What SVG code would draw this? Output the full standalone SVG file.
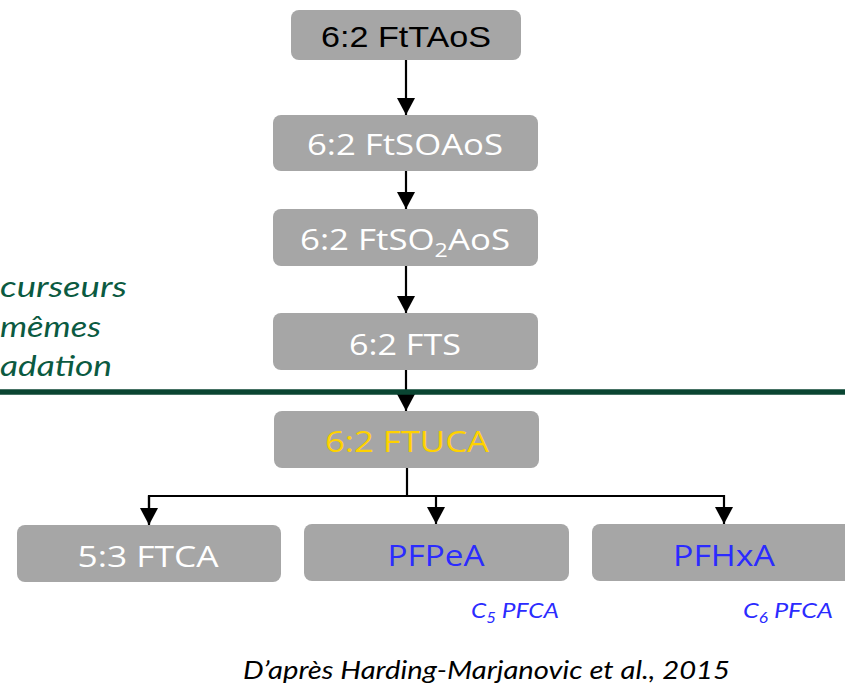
<svg xmlns="http://www.w3.org/2000/svg" width="845" height="687" viewBox="0 0 845 687">
<defs>
<marker id="ah" markerWidth="20" markerHeight="18" refX="17" refY="9" orient="auto" markerUnits="userSpaceOnUse">
<path d="M0,0 L17,9 L0,18 Z" fill="#000"/>
</marker>
<style>
.box{fill:#A6A6A6}
.t{font-family:"Open Sans","Lato",sans-serif;font-size:30px;text-anchor:middle}
.w{fill:#fff}
.k{fill:#000}
.c{stroke:#000;stroke-width:2.2;fill:none}
.g{font-family:"Lato","Open Sans",sans-serif;font-style:italic;font-size:29px;fill:#0B5A41}
.s{font-family:"Lato","Open Sans",sans-serif;font-style:italic;font-size:22px;fill:#2B2BFF}
</style>
</defs>
<rect width="845" height="687" fill="#fff"/>

<g id="legend-left">
<text class="g" x="0" y="297" textLength="127" lengthAdjust="spacingAndGlyphs">curseurs</text>
<text class="g" x="0" y="337" textLength="101" lengthAdjust="spacingAndGlyphs">mêmes</text>
<text class="g" x="0" y="376" textLength="112" lengthAdjust="spacingAndGlyphs">adation</text>
</g>

<g id="connectors">
<line class="c" x1="406" y1="60" x2="406" y2="115" marker-end="url(#ah)"/>
<line class="c" x1="406" y1="171" x2="406" y2="209" marker-end="url(#ah)"/>
<line class="c" x1="406" y1="266" x2="406" y2="313" marker-end="url(#ah)"/>
<line class="c" x1="406" y1="370" x2="406" y2="411" marker-end="url(#ah)"/>
<polyline class="c" points="407,468 407,495"/>
<polyline class="c" points="149,524 149,496 724,496 724,524" marker-end="url(#ah)"/>
<line class="c" x1="149" y1="496" x2="149" y2="525" marker-end="url(#ah)"/>
<line class="c" x1="436" y1="496" x2="436" y2="524" marker-end="url(#ah)"/>
</g>

<g id="separator">
<line x1="0" y1="392" x2="845" y2="392" stroke="#0A4532" stroke-width="5.5"/>
</g>

<g id="n-fttaos">
<rect class="box" x="291" y="10" width="230" height="50" rx="8"/>
<text class="k" x="406" y="47" style="font-family:'Liberation Sans',sans-serif;font-size:30px;text-anchor:middle" textLength="170" lengthAdjust="spacingAndGlyphs">6:2 FtTAoS</text>
</g>

<g id="n-ftsoaos">
<rect class="box" x="273" y="115" width="265" height="56" rx="8"/>
<text class="t w" x="405" y="155" textLength="196" lengthAdjust="spacingAndGlyphs">6:2 FtSOAoS</text>
</g>

<g id="n-ftso2aos">
<rect class="box" x="273" y="209" width="265" height="57" rx="8"/>
<text class="t w" x="405" y="250" textLength="210" lengthAdjust="spacingAndGlyphs">6:2 FtSO<tspan font-size="20" dy="7">2</tspan><tspan dy="-7">AoS</tspan></text>
</g>

<g id="n-fts">
<rect class="box" x="273" y="313" width="265" height="57" rx="8"/>
<text class="t w" x="405" y="355" textLength="112" lengthAdjust="spacingAndGlyphs">6:2 FTS</text>
</g>

<g id="n-ftuca">
<rect class="box" x="274" y="411" width="265" height="57" rx="8"/>
<text class="t" x="407" y="452" fill="#FFD200" textLength="164" lengthAdjust="spacingAndGlyphs">6:2 FTUCA</text>
</g>

<g id="n-ftca">
<rect class="box" x="17" y="525" width="264" height="57" rx="8"/>
<text class="t w" x="148" y="567" textLength="141" lengthAdjust="spacingAndGlyphs">5:3 FTCA</text>
</g>

<g id="n-pfpea">
<rect class="box" x="304" y="524" width="265" height="57" rx="8"/>
<text class="t" x="436" y="566" fill="#2B2BFF" textLength="97" lengthAdjust="spacingAndGlyphs">PFPeA</text>
<text class="s" x="471" y="618" textLength="88" lengthAdjust="spacingAndGlyphs">C<tspan font-size="15" dy="5">5</tspan><tspan dy="-5"> PFCA</tspan></text>
</g>

<g id="n-pfhxa">
<rect class="box" x="592" y="524" width="265" height="57" rx="8"/>
<text class="t" x="724" y="566" fill="#2B2BFF" textLength="102" lengthAdjust="spacingAndGlyphs">PFHxA</text>
<text class="s" x="743" y="618" textLength="90" lengthAdjust="spacingAndGlyphs">C<tspan font-size="15" dy="5">6</tspan><tspan dy="-5"> PFCA</tspan></text>
</g>

<g id="source">
<text x="243" y="679" style="font-family:'Lato','Open Sans',sans-serif;font-style:italic;font-size:26px;fill:#000" textLength="487" lengthAdjust="spacingAndGlyphs">D’après Harding-Marjanovic et al., 2015</text>
</g>
</svg>
